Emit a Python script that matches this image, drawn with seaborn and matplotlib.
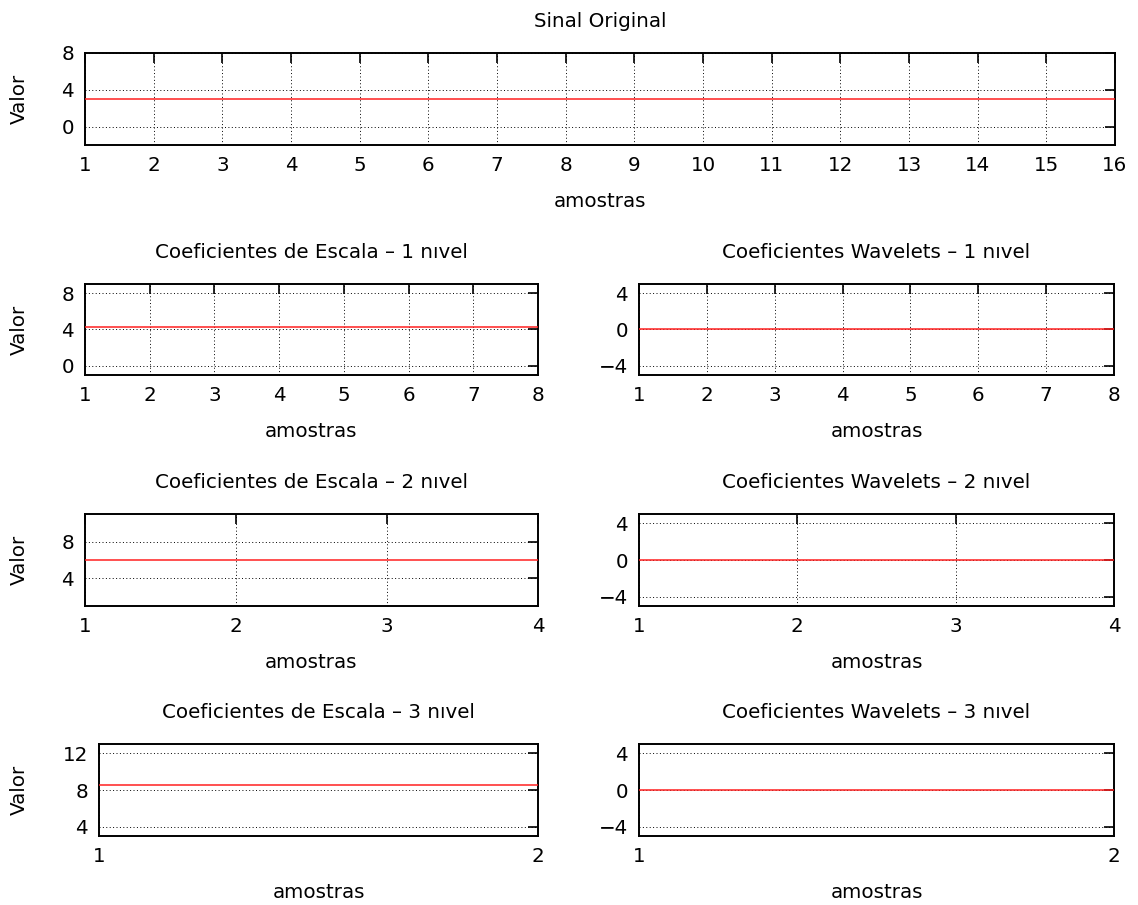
import matplotlib
matplotlib.use("Agg")
import matplotlib.pyplot as plt
import seaborn as sns
import pandas as pd

# ---------------- data ----------------
sinal_original = [3, 3, 3, 3, 3, 3, 3, 3, 3, 3, 3, 3, 3, 3, 3, 3]
escala_1 = [4.24, 4.24, 4.24, 4.24, 4.24, 4.24, 4.24, 4.24]
wavelet_1 = [0, 0, 0, 0, 0, 0, 0, 0]
escala_2 = [6, 6, 6, 6]
wavelet_2 = [0, 0, 0, 0]
escala_3 = [8.49, 8.49]
wavelet_3 = [0, 0]

titles = [
    "Sinal Original",
    "Coeficientes de Escala – 1 nıvel",
    "Coeficientes Wavelets – 1 nıvel",
    "Coeficientes de Escala – 2 nıvel",
    "Coeficientes Wavelets – 2 nıvel",
    "Coeficientes de Escala – 3 nıvel",
    "Coeficientes Wavelets – 3 nıvel",
]
series = [sinal_original, escala_1, wavelet_1, escala_2, wavelet_2, escala_3, wavelet_3]
ylims = [(-2, 8), (-1, 9), (-5, 5), (1, 11), (-5, 5), (3, 13), (-5, 5)]
yticks = [[0, 4, 8], [0, 4, 8], [-4, 0, 4], [4, 8], [-4, 0, 4], [4, 8, 12], [-4, 0, 4]]
show_ylabel = [True, True, False, True, False, True, False]

# ---------------- style ----------------
sns.set_theme(style="white")
plt.rcParams["font.family"] = ["DejaVu Sans"]
plt.rcParams["axes.unicode_minus"] = True
plt.rcParams["text.color"] = "black"
plt.rcParams["axes.labelcolor"] = "black"

W, H = 1138, 905
fig = plt.figure(figsize=(W / 100, H / 100), dpi=100)

# panel boxes in pixels (left, right, top, bottom)
boxes = [
    (85, 1115, 53, 145),
    (85, 538, 284, 375),
    (639, 1114, 284, 375),
    (85, 538, 514, 606),
    (639, 1114, 514, 606),
    (99, 538, 744, 836),
    (639, 1114, 744, 836),
]

FS = 14.3
for vals, title, ylim, yt, ylab, (l, r, t, b) in zip(series, titles, ylims, yticks, show_ylabel, boxes):
    ax = fig.add_axes([l / W, 1 - b / H, (r - l) / W, (b - t) / H])
    n = len(vals)
    df = pd.DataFrame({"amostras": list(range(1, n + 1)), "Valor": vals})
    ax.grid(True, color="black", linestyle=(0, (1, 2.5)), linewidth=0.7, zorder=1)
    sns.lineplot(data=df, x="amostras", y="Valor", ax=ax, color="#ff2020", linewidth=1.1, zorder=3)
    ax.set_xlim(1, n)
    ax.set_ylim(*ylim)
    ax.set_xticks(list(range(1, n + 1)))
    ax.set_yticks(yt)
    ax.tick_params(direction="in", length=7, width=1.2, top=True, right=True,
                   labelsize=FS, pad=8, colors="black")
    for s in ax.spines.values():
        s.set_color("black")
        s.set_linewidth(1.4)
    ax.set_title(title, fontsize=FS, pad=19, color="black")
    ax.set_xlabel("amostras", fontsize=FS, labelpad=12)
    if ylab:
        ax.set_ylabel("Valor", fontsize=FS)
        ax.yaxis.set_label_coords((29 - l) / (r - l), 0.5)
    else:
        ax.set_ylabel("")

fig.savefig("out.png", dpi=100)
